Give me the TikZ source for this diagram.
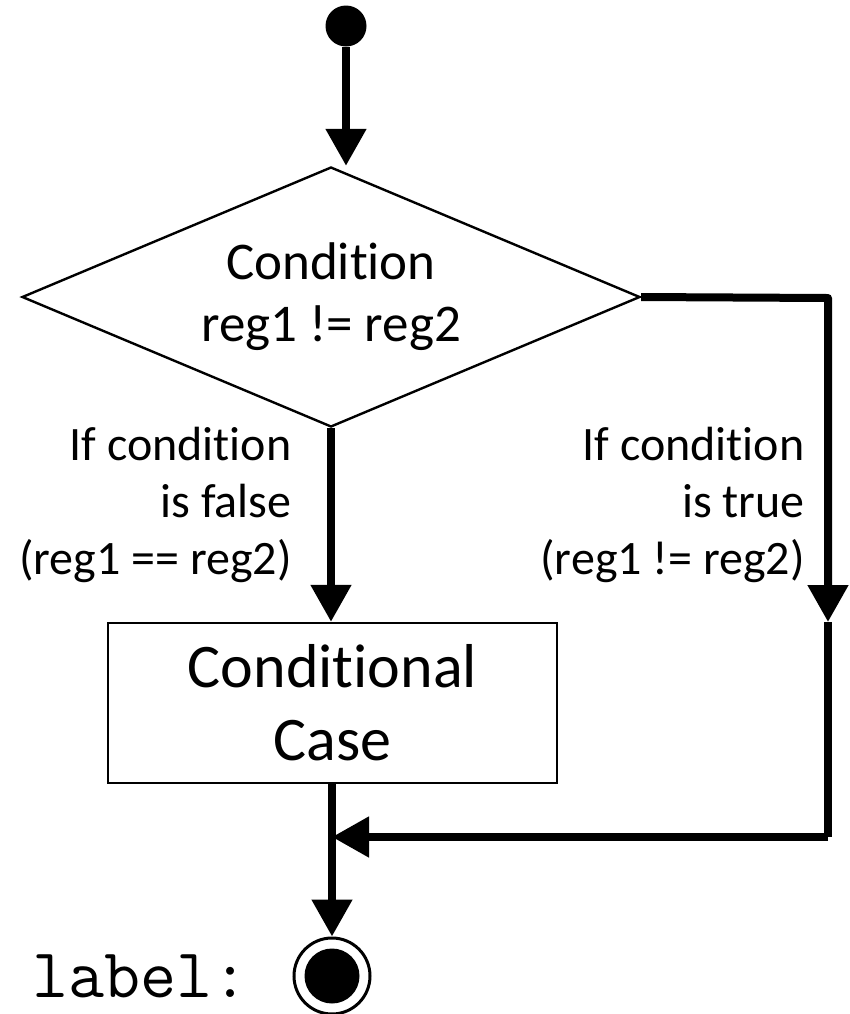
\documentclass[tikz,border=0pt]{standalone}
\usepackage{fontspec}
\setmainfont{Carlito}[Ligatures=NoCommon]
\usetikzlibrary{positioning, shapes.geometric, arrows.meta, calc}

\begin{document}
\begin{tikzpicture}[x=0.5pt, y=-0.5pt,
    flow/.style={line width=4pt, line join=round, -{Triangle[width=19.5pt,length=18.5pt]}},
    flowline/.style={line width=4pt, line join=round},
    decision/.style={diamond, draw, line width=1.2pt, inner sep=0pt, aspect=2.37, minimum width=309pt, minimum height=130pt, align=center, font=\fontsize{26.5}{31}\selectfont},
    action/.style={rectangle, draw, line width=1.2pt, minimum width=224.5pt, minimum height=80pt, align=center, font=\fontsize{31}{36.5}\selectfont},
    guard/.style={align=right, inner sep=0pt, anchor=east, font=\fontsize{24}{28.5}\selectfont}]
  \useasboundingbox (0,0) rectangle (850,1014);
  % nodes
  \node[circle, fill, inner sep=0pt, minimum size=20.5pt] (start) at (346,26) {};
  \node[decision] (cond) at (331,297) {Condition\\reg1 != reg2};
  \node[action] (case) at (332.5,703) {Conditional\\Case};
  \node[circle, draw, line width=1.5pt, inner sep=0pt, minimum size=38pt] (final) at (332,976) {};
  \node[circle, fill, inner sep=0pt, minimum size=27.5pt] (finaldot) at (final) {};
  \node[anchor=base east, inner sep=0pt, font=\fontsize{35}{37}\selectfont\ttfamily] (lbl) at (249,997) {label:};
  \node[guard] (nolbl) at (292,505) {If condition\\is false\\(reg1 == reg2)};
  \node[guard] (yeslbl) at (805,505) {If condition\\is true\\(reg1 != reg2)};
  % corners of the true branch
  \coordinate (tr) at (828,298);
  \coordinate (rmid) at (828,622);
  \coordinate (br) at (828,837);
  \coordinate (join) at (332,837);
  % flow
  \draw[flow] (start) -- (start |- cond.north);
  \draw[flow] (cond.south) -- (cond.south |- case.north);
  \draw[flow] (cond.east) -- (tr) -- (rmid);
  \draw[flowline] (rmid) -- (br);
  \draw[flow] (br) -- (join);
  \draw[flow] (case.south -| final) -- (final);
\end{tikzpicture}
\end{document}
